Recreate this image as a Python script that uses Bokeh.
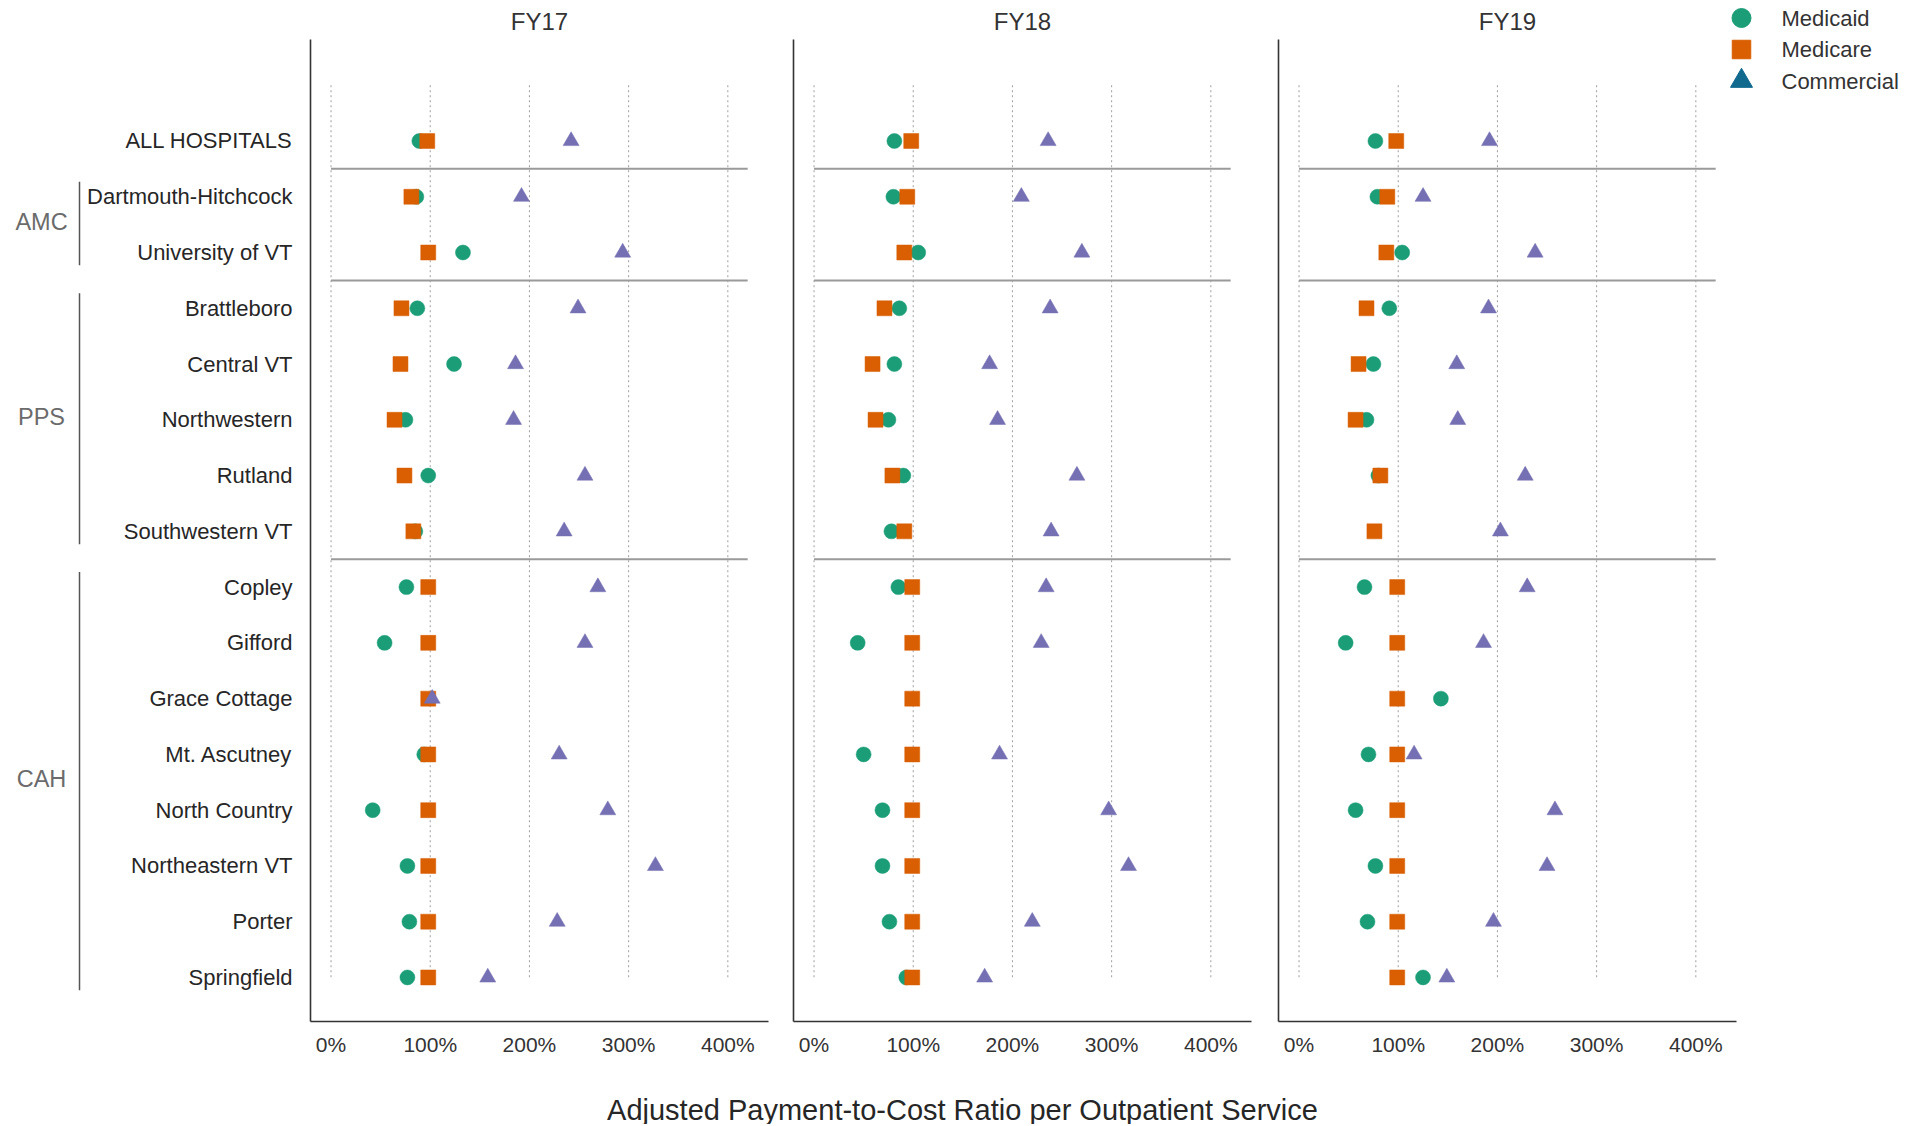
import numpy as np
from bokeh.plotting import figure
from bokeh.models import Range1d, FixedTicker, PrintfTickFormatter, ColumnDataSource
from bokeh.layouts import row, column
from bokeh.embed import file_html
from bokeh.resources import INLINE
from bokeh.core.properties import value

FONT = "Liberation Sans"

# ---------------- data ----------------
hospitals = ["ALL HOSPITALS", "Dartmouth-Hitchcock", "University of VT",
             "Brattleboro", "Central VT", "Northwestern", "Rutland", "Southwestern VT",
             "Copley", "Gifford", "Grace Cottage", "Mt. Ascutney", "North Country",
             "Northeastern VT", "Porter", "Springfield"]
hospital_group = ["", "AMC", "AMC",
                  "PPS", "PPS", "PPS", "PPS", "PPS",
                  "CAH", "CAH", "CAH", "CAH", "CAH", "CAH", "CAH", "CAH"]
years = ["FY17", "FY18", "FY19"]
payers = ["Medicaid", "Medicare", "Commercial"]

medicaid_fy17 = [89, 86, 133, 87, 124, 75, 98, 85, 76, 54, None, 94, 42, 77, 79, 77]
medicare_fy17 = [97, 81, 98, 71, 70, 64, 74, 83, 98, 98, 98, 98, 98, 98, 98, 98]
commercial_fy17 = [242, 192, 294, 249, 186, 184, 256, 235, 269, 256, 102, 230, 279, 327, 228, 158]

medicaid_fy18 = [81, 80, 105, 86, 81, 75, 90, 78, 85, 44, None, 50, 69, 69, 76, 93]
medicare_fy18 = [98, 94, 91, 71, 59, 62, 79, 91, 99, 99, 99, 99, 99, 99, 99, 99]
commercial_fy18 = [236, 209, 270, 238, 177, 185, 265, 239, 234, 229, None, 187, 297, 317, 220, 172]

medicaid_fy19 = [77, 79, 104, 91, 75, 68, 80, None, 66, 47, 143, 70, 57, 77, 69, 125]
medicare_fy19 = [98, 89, 88, 68, 60, 57, 82, 76, 99, 99, 99, 99, 99, 99, 99, 99]
commercial_fy19 = [192, 125, 238, 191, 159, 160, 228, 203, 230, 186, None, 116, 258, 250, 196, 149]

series = {
    "FY17": [medicaid_fy17, medicare_fy17, commercial_fy17],
    "FY18": [medicaid_fy18, medicare_fy18, commercial_fy18],
    "FY19": [medicaid_fy19, medicare_fy19, commercial_fy19],
}
x_ticks = [0, 100, 200, 300, 400]

# ---------------- styles / layout ----------------
payer_colors = ["#1b9e77", "#d95f02", "#7570b3"]
legend_colors = ["#1b9e77", "#d95f02", "#11698e"]
payer_markers = ["circle", "square", "triangle"]
payer_sizes = [15, 15, 16]
legend_sizes = [19, 18.5, 22]

n = len(hospitals)
rows_idx = list(range(n))

TOP, FRAME_H, BOTTOM = 39, 982, 40
H = TOP + FRAME_H + BOTTOM
FRAME_W = 458
LABEL_W = 304
y_range = Range1d(15.79, -1.82)


def bare(width, height, xr, yr, top=0, bottom=0):
    f = figure(width=width, height=height, x_range=xr, y_range=yr,
               toolbar_location=None, output_backend="svg",
               x_axis_location=None, y_axis_location=None,
               min_border_left=0, min_border_right=0,
               min_border_top=top, min_border_bottom=bottom)
    f.grid.visible = False
    f.outline_line_color = None
    return f


# ---------------- label column ----------------
lab = bare(LABEL_W, H, Range1d(0, LABEL_W), y_range, TOP, BOTTOM)
lab.text(x=[292] * n, y=rows_idx, text=hospitals, text_align="right",
         text_baseline="middle", text_font=value(FONT), text_font_size="22px",
         text_color="#262626")

group_names, group_first, group_last = [], [], []
for i, g in enumerate(hospital_group):
    if not g:
        continue
    if group_names and group_names[-1] == g:
        group_last[-1] = i
    else:
        group_names.append(g)
        group_first.append(i)
        group_last.append(i)

lab.segment(x0=[79] * len(group_names), x1=[79] * len(group_names),
            y0=[f - 0.27 for f in group_first], y1=[l + 0.23 for l in group_last],
            line_color="#555555", line_width=1.5)
lab.text(x=[41] * len(group_names), y=[(f + l) / 2 - 0.05 for f, l in zip(group_first, group_last)],
         text=group_names, text_align="center", text_baseline="middle",
         text_font=value(FONT), text_font_size="23.5px", text_color="#6b6b6b")

separators = [i - 0.5 for i in range(1, n) if hospital_group[i] != hospital_group[i - 1]]


def make_panel(year, left_b, right_b):
    p = figure(width=left_b + FRAME_W + right_b, height=H,
               x_range=Range1d(-20.7, 441), y_range=y_range,
               toolbar_location=None, output_backend="svg",
               min_border_left=left_b, min_border_right=right_b,
               min_border_top=TOP, min_border_bottom=BOTTOM, title=year)
    p.title.align = "center"
    p.title.text_font = FONT
    p.title.text_font_size = "24px"
    p.title.text_font_style = "normal"
    p.title.text_color = "#333333"
    p.title.standoff = 9
    p.outline_line_color = None
    p.grid.visible = False

    yax = p.yaxis[0]
    yax.ticker = FixedTicker(ticks=[])
    yax.major_tick_out = 0
    yax.major_tick_in = 0
    yax.minor_tick_out = 0
    yax.major_label_standoff = 0
    yax.axis_line_color = "#333333"
    yax.axis_line_width = 1.6

    xax = p.xaxis[0]
    xax.ticker = FixedTicker(ticks=x_ticks)
    xax.formatter = PrintfTickFormatter(format="%d%%")
    xax.major_tick_line_color = None
    xax.minor_tick_line_color = None
    xax.major_tick_out = 0
    xax.major_label_standoff = 11
    xax.major_label_text_font = FONT
    xax.major_label_text_font_size = "21px"
    xax.major_label_text_color = "#333333"
    xax.axis_line_color = "#333333"
    xax.axis_line_width = 1.6

    # dotted vertical grid, limited to the rows
    p.segment(x0=x_ticks, x1=x_ticks, y0=[-1] * len(x_ticks), y1=[n - 1] * len(x_ticks),
              line_color="#9e9e9e", line_width=1, line_dash="2 3")
    # group separators
    p.segment(x0=[0] * len(separators), x1=[420] * len(separators),
              y0=separators, y1=separators, line_color="#9a9a9a", line_width=2)

    for vals, col, mk, sz in zip(series[year], payer_colors, payer_markers, payer_sizes):
        xs = np.array([np.nan if v is None else v for v in vals], dtype=float)
        src = ColumnDataSource(dict(x=xs, y=rows_idx))
        p.scatter("x", "y", source=src, marker=mk, size=sz, fill_color=col,
                  line_color=col, line_width=0.5)
    return p


P3_LEFT = 19
P3_RIGHT = 167
p1 = make_panel("FY17", 6, 8)
p2 = make_panel("FY18", 17, 8)
p3 = make_panel("FY19", P3_LEFT, P3_RIGHT)

# ---------------- legend (drawn in p3's right margin, pixel ranges) ----------------
x0_px = LABEL_W + p1.width + p2.width + P3_LEFT
p3.extra_x_ranges = {"px": Range1d(x0_px, x0_px + FRAME_W)}
p3.extra_y_ranges = {"px": Range1d(TOP + FRAME_H, TOP)}
leg_y = [17.5 + 31.5 * i for i in range(len(payers))]
leg_src = ColumnDataSource(dict(x=[1741] * len(payers), y=leg_y, marker=payer_markers,
                                color=legend_colors, size=legend_sizes))
p3.scatter("x", "y", source=leg_src, marker="marker", size="size", fill_color="color",
           line_color="color", x_range_name="px", y_range_name="px", level="overlay")
p3.text(x=[1781] * len(payers), y=leg_y, text=payers, text_align="left",
        text_baseline="middle", text_font=value(FONT), text_font_size="22px",
        text_color="#333333", x_range_name="px", y_range_name="px", level="overlay")

# ---------------- shared x label ----------------
TOTAL_W = LABEL_W + p1.width + p2.width + p3.width
BH = 1124 - H
bot = bare(TOTAL_W, BH, Range1d(0, TOTAL_W), Range1d(BH, 0))
bot.text(x=[962], y=[1109 - H], text=["Adjusted Payment-to-Cost Ratio per Outpatient Service"],
         text_align="center", text_baseline="middle", text_font=value(FONT),
         text_font_size="29px", text_color="#262626", level="overlay")

layout = column(row(lab, p1, p2, p3), bot)
open("out.html", "w").write(file_html(layout, INLINE))
